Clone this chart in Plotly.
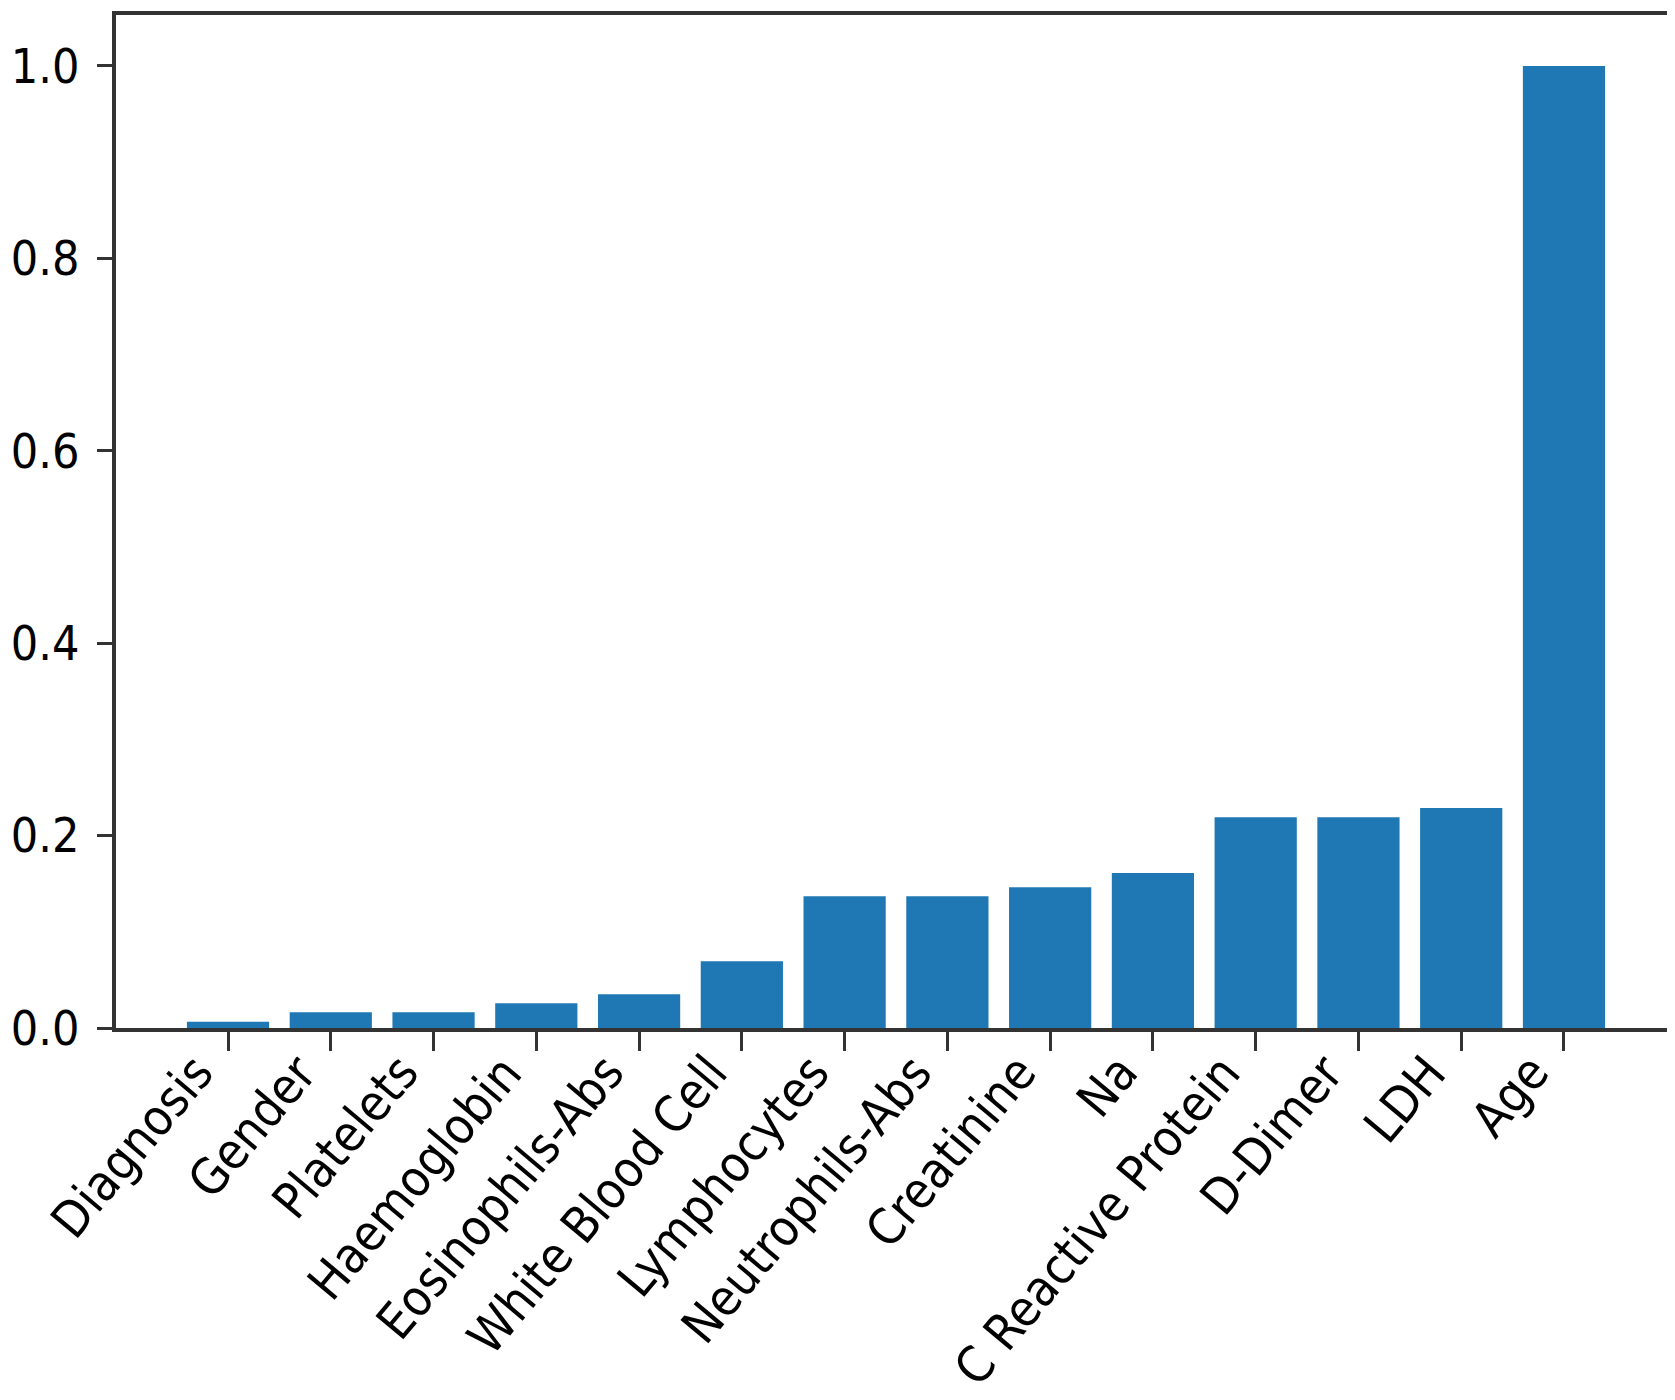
import plotly.graph_objects as go

features = ["Diagnosis", "Gender", "Platelets", "Haemoglobin", "Eosinophils-Abs",
            "White Blood Cell", "Lymphocytes", "Neutrophils-Abs", "Creatinine", "Na",
            "C Reactive Protein", "D-Dimer", "LDH", "Age"]
importance = [0.0066, 0.0163, 0.0163, 0.0257, 0.035, 0.0693, 0.137, 0.137,
              0.1463, 0.161, 0.219, 0.219, 0.2288, 1.0]
y_ticks = [0.0, 0.2, 0.4, 0.6, 0.8, 1.0]
y_tick_text = ["0.0", "0.2", "0.4", "0.6", "0.8", "1.0"]

FONT = "DejaVu Sans Condensed, DejaVu Sans, sans-serif"
SPINE = "#333333"

fig = go.Figure(go.Bar(
    x=list(range(len(features))),
    y=importance,
    width=0.8,
    marker=dict(color="#1f77b4", line=dict(width=0)),
))

# Rotated category labels (right/top aligned to each tick, like matplotlib ha='right')
for i, name in enumerate(features):
    fig.add_annotation(
        x=i, xref="x", y=0, yref="paper",
        text=name, showarrow=False,
        textangle=-50, xanchor="right", yanchor="top",
        xshift=-2, yshift=-15, borderpad=0,
        font=dict(family=FONT, size=50, color="black"),
    )

fig.update_layout(
    width=1675, height=1400,
    margin=dict(l=108, r=7, t=7, b=380),
    paper_bgcolor="white", plot_bgcolor="white",
    showlegend=False,
    font=dict(family=FONT, size=48, color="black"),
)
fig.update_xaxes(
    range=[-1.09, 14.09],
    tickmode="array", tickvals=list(range(len(features))),
    showticklabels=False,
    ticks="outside", ticklen=19, tickwidth=3, tickcolor=SPINE,
    showline=True, linewidth=4, linecolor=SPINE, mirror=True,
    showgrid=False, zeroline=False,
    automargin=False,
)
fig.update_yaxes(
    range=[0, 1.053],
    tickmode="array", tickvals=y_ticks, ticktext=y_tick_text,
    ticks="outside", ticklen=15, tickwidth=3, tickcolor=SPINE,
    showline=True, linewidth=4, linecolor=SPINE, mirror=True,
    showgrid=False, zeroline=False,
    automargin=False,
    ticklabelstandoff=8,
    tickfont=dict(family=FONT, size=48, color="black"),
)

fig.write_html("out.html")
